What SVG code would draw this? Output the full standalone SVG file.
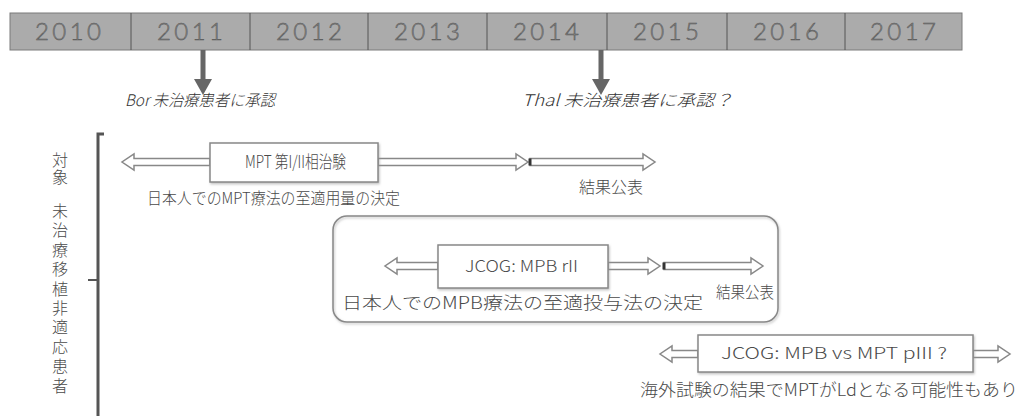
<svg xmlns="http://www.w3.org/2000/svg" width="1025" height="419" viewBox="0 0 1025 419">
<style>
.yr{font-family:Lato,"Liberation Sans",sans-serif;font-size:24px;font-weight:300;fill:#8c8c8c;stroke:#555;stroke-width:0.5;text-anchor:middle}
.jp{font-family:"Noto Sans CJK JP","Liberation Sans",sans-serif;font-size:16px;font-weight:300;fill:#4a4a4a}
.it{font-family:"Noto Sans CJK JP","Liberation Sans",sans-serif;font-size:16px;font-weight:300;fill:#333;font-style:italic}
.box{fill:#fff;stroke:#888;stroke-width:1.5}
.blk{fill:#fff;stroke:#888;stroke-width:1.5;stroke-linejoin:miter}
.div{stroke:#555;stroke-width:1}
</style>
<defs>
<filter id="sh" x="-5%" y="-5%" width="110%" height="120%"><feDropShadow dx="1" dy="1.5" stdDeviation="1" flood-color="#999" flood-opacity="0.6"/></filter>
</defs>

<g id="timeline">
<rect x="10" y="13" width="952" height="37" fill="#ababab" stroke="#7a7a7a" stroke-width="1"/>
<line class="div" x1="131" y1="13" x2="131" y2="50"/>
<line class="div" x1="250" y1="13" x2="250" y2="50"/>
<line class="div" x1="368" y1="13" x2="368" y2="50"/>
<line class="div" x1="487" y1="13" x2="487" y2="50"/>
<line class="div" x1="607" y1="13" x2="607" y2="50"/>
<line class="div" x1="727" y1="13" x2="727" y2="50"/>
<line class="div" x1="845" y1="13" x2="845" y2="50"/>
<text class="yr" x="68" y="40" textLength="66" lengthAdjust="spacing">2010</text>
<text class="yr" x="190" y="40" textLength="66" lengthAdjust="spacing">2011</text>
<text class="yr" x="309" y="40" textLength="66" lengthAdjust="spacing">2012</text>
<text class="yr" x="427" y="40" textLength="66" lengthAdjust="spacing">2013</text>
<text class="yr" x="546" y="40" textLength="66" lengthAdjust="spacing">2014</text>
<text class="yr" x="666" y="40" textLength="66" lengthAdjust="spacing">2015</text>
<text class="yr" x="786" y="40" textLength="66" lengthAdjust="spacing">2016</text>
<text class="yr" x="903" y="40" textLength="66" lengthAdjust="spacing">2017</text>
</g>

<g id="approval-bor">
<path d="M200.5,50 H205.5 V79 H212 L203,95 L194,79 H200.5 Z" fill="#666"/>
<text class="it" x="125" y="106" textLength="150" lengthAdjust="spacingAndGlyphs">Bor 未治療患者に承認</text>
</g>
<g id="approval-thal">
<path d="M598.5,50 H603.5 V79 H610 L601,95 L592,79 H598.5 Z" fill="#666"/>
<text class="it" x="522" y="106" textLength="211" lengthAdjust="spacingAndGlyphs">Thal 未治療患者に承認？</text>
</g>

<g id="target-label">
<path d="M104,134 H98 V416" fill="none" stroke="#555" stroke-width="3"/>
<path d="M97,280 H88" fill="none" stroke="#555" stroke-width="2"/>
<text class="jp" x="60" y="152" style="writing-mode:vertical-rl;letter-spacing:1px">対象</text>
<text class="jp" x="60" y="203" style="writing-mode:vertical-rl;letter-spacing:3.4px">未治療移植非適応患者</text>
</g>

<g id="connectors">
<path class="blk" d="M210,158.5 H134 V154 L122,162 L134,170 V165.5 H210 Z"/>
<path class="blk" d="M378,158.5 H516 V154 L528,162 L516,170 V165.5 H378 Z"/>
<path class="blk" d="M530,158.5 H643 V154 L655,162 L643,170 V165.5 H530 Z"/>
<rect x="528.5" y="158.5" width="3" height="7" fill="#333"/>
<path class="blk" d="M438,262.5 H397 V258 L385,266 L397,274 V269.5 H438 Z"/>
<path class="blk" d="M608,262.5 H648 V258 L660,266 L648,274 V269.5 H608 Z"/>
<path class="blk" d="M664,262.5 H751 V258 L763,266 L751,274 V269.5 H664 Z"/>
<rect x="662.5" y="262.5" width="3" height="7" fill="#333"/>
<path class="blk" d="M698,350.5 H672 V346 L660,354 L672,362 V357.5 H698 Z"/>
<path class="blk" d="M973,350.5 H998 V346 L1010,354 L998,362 V357.5 H973 Z"/>
</g>

<g id="mpt-phase12">
<rect class="box" x="210" y="143" width="168" height="39" filter="url(#sh)"/>
<text class="jp" x="245" y="168" textLength="101" lengthAdjust="spacingAndGlyphs" style="font-size:17px">MPT 第I/II相治験</text>
<text class="jp" x="147" y="204" textLength="253" lengthAdjust="spacingAndGlyphs">日本人でのMPT療法の至適用量の決定</text>
<text class="jp" x="579" y="193" textLength="64" lengthAdjust="spacingAndGlyphs">結果公表</text>
</g>

<g id="jcog-mpb">
<rect x="333" y="216" width="445" height="106" rx="14" fill="none" stroke="#888" stroke-width="1.5" filter="url(#sh)"/>
<rect class="box" x="438" y="245" width="170" height="43" filter="url(#sh)"/>
<text class="jp" x="465" y="272" textLength="113" lengthAdjust="spacingAndGlyphs">JCOG: MPB rII</text>
<text class="jp" x="342" y="309" textLength="361" lengthAdjust="spacingAndGlyphs" style="font-size:17px">日本人でのMPB療法の至適投与法の決定</text>
<text class="jp" x="716" y="298" textLength="58" lengthAdjust="spacingAndGlyphs">結果公表</text>
</g>

<g id="jcog-mpb-vs-mpt">
<rect class="box" x="698" y="335" width="275" height="37" filter="url(#sh)"/>
<text class="jp" x="721" y="359" textLength="226" lengthAdjust="spacingAndGlyphs">JCOG: MPB vs MPT pIII ?</text>
<text class="jp" x="640" y="396" textLength="378" lengthAdjust="spacingAndGlyphs" style="font-size:17px">海外試験の結果でMPTがLdとなる可能性もあり</text>
</g>
</svg>
